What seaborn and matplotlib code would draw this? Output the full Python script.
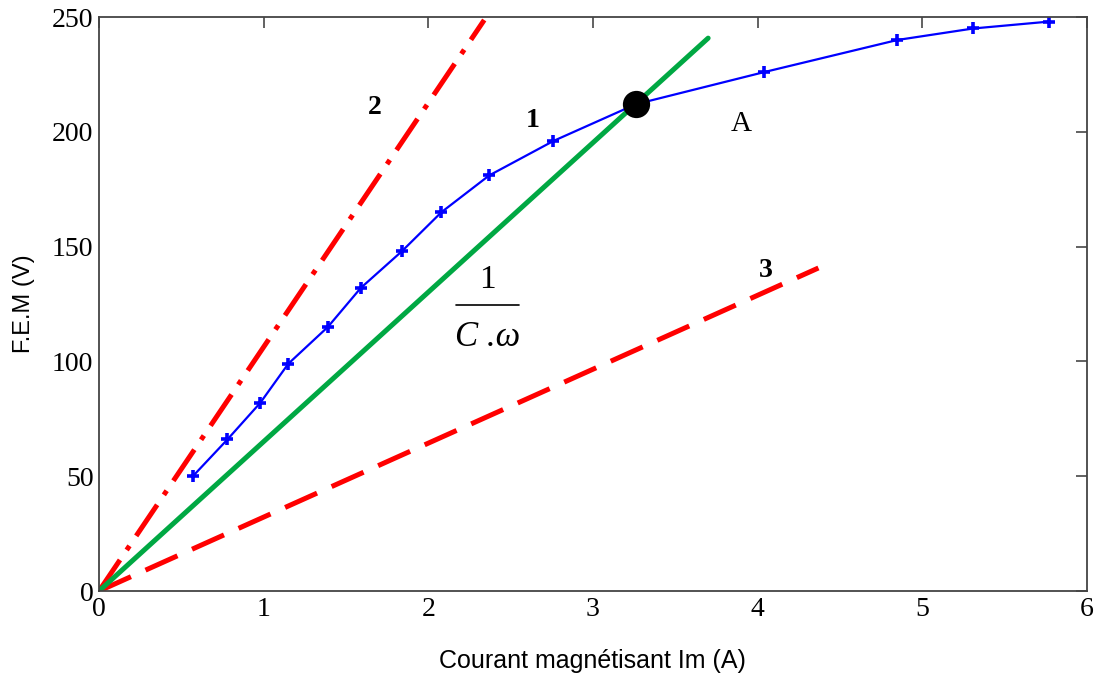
import numpy as np
import pandas as pd
import matplotlib
matplotlib.use("Agg")
import matplotlib.pyplot as plt
import seaborn as sns

# courbe 1 : caractéristique à vide
im_vals  = [0.57, 0.78, 0.98, 1.15, 1.39, 1.59, 1.84, 2.08, 2.37, 2.76, 3.26, 4.04, 4.85, 5.31, 5.77]
fem_vals = [50, 66, 82, 99, 115, 132, 148, 165, 181, 196, 212, 226, 240, 245, 248]

# droites 1/(C.w)
green_x, green_y = [0, 3.70], [0, 240.8]
line2_x, line2_y = [0, 2.34], [0, 248.7]
line3_x, line3_y = [0, 4.37], [0, 140.7]

# point de fonctionnement A
pt_a_x, pt_a_y = [3.26], [212]

X_TICKS = [0, 1, 2, 3, 4, 5, 6]
Y_TICKS = [0, 50, 100, 150, 200, 250]

RED   = "#FF0000"
GREEN = "#00A843"
BLUE  = "#0000FF"
SERIF = ["Liberation Serif", "DejaVu Serif"]
SANS  = ["Liberation Sans", "DejaVu Sans"]

sns.set_theme(style="white")
plt.rcParams["font.family"] = SANS
plt.rcParams.update({"text.color": "black", "axes.labelcolor": "black",
                     "xtick.color": "black", "ytick.color": "black"})

fig = plt.figure(figsize=(11, 6.75), dpi=100)
ax = fig.add_axes([0.09, 0.1244, 0.898, 0.8504])

df1 = pd.DataFrame({"Im": im_vals, "E": fem_vals})
sns.lineplot(x=line2_x, y=line2_y, ax=ax, color=RED, lw=3.6,
             linestyle=(0, (7.5, 2.4, 1.0, 2.4)))
sns.lineplot(x=line3_x, y=line3_y, ax=ax, color=RED, lw=3.6,
             linestyle=(0, (7.0, 3.2)))
sns.lineplot(x=green_x, y=green_y, ax=ax, color=GREEN, lw=3.6)
sns.lineplot(data=df1, x="Im", y="E", ax=ax, color=BLUE, lw=1.6,
             marker="+", markersize=8, markeredgewidth=2.6,
             markeredgecolor=BLUE)
sns.scatterplot(x=pt_a_x, y=pt_a_y, ax=ax, color="black", s=330,
                edgecolor="black", zorder=5)

ax.set_xlim(0, 6)
ax.set_ylim(0, 250)
ax.set_xticks(X_TICKS)
ax.set_yticks(Y_TICKS)
ax.set_xticklabels([str(t) for t in X_TICKS], family=SERIF, fontsize=20)
ax.set_yticklabels([str(t) for t in Y_TICKS], family=SERIF, fontsize=20)
ax.tick_params(direction="in", length=8, width=1.3, color="#555555",
               labelcolor="black", top=True, right=True, pad=4)
for s in ax.spines.values():
    s.set_color("#444444")
    s.set_linewidth(1.3)

ax.set_xlabel("Courant magnétisant Im (A)", fontsize=18, labelpad=20)
ax.set_ylabel("F.E.M (V)", fontsize=17, labelpad=12)

# annotations
ax.text(1.676, 210.8, "2", family=SERIF, fontsize=20, fontweight="bold",
        ha="center", va="center")
ax.text(2.635, 205, "1", family=SERIF, fontsize=20, fontweight="bold",
        ha="center", va="center")
ax.text(3.90, 203.4, "A", family=SERIF, fontsize=21, ha="center", va="center")
ax.text(4.05, 139.8, "3", family=SERIF, fontsize=20, fontweight="bold",
        ha="center", va="center")
ax.text(2.36, 135.5, "1", family=SERIF, fontsize=24, ha="center", va="center")
ax.plot([2.17, 2.55], [124.6, 124.6], color="black", lw=1.2)
ax.text(2.36, 110.6, "C .ω", family=SERIF, fontsize=25, fontstyle="italic",
        ha="center", va="center")

fig.savefig("out.png", dpi=100)
